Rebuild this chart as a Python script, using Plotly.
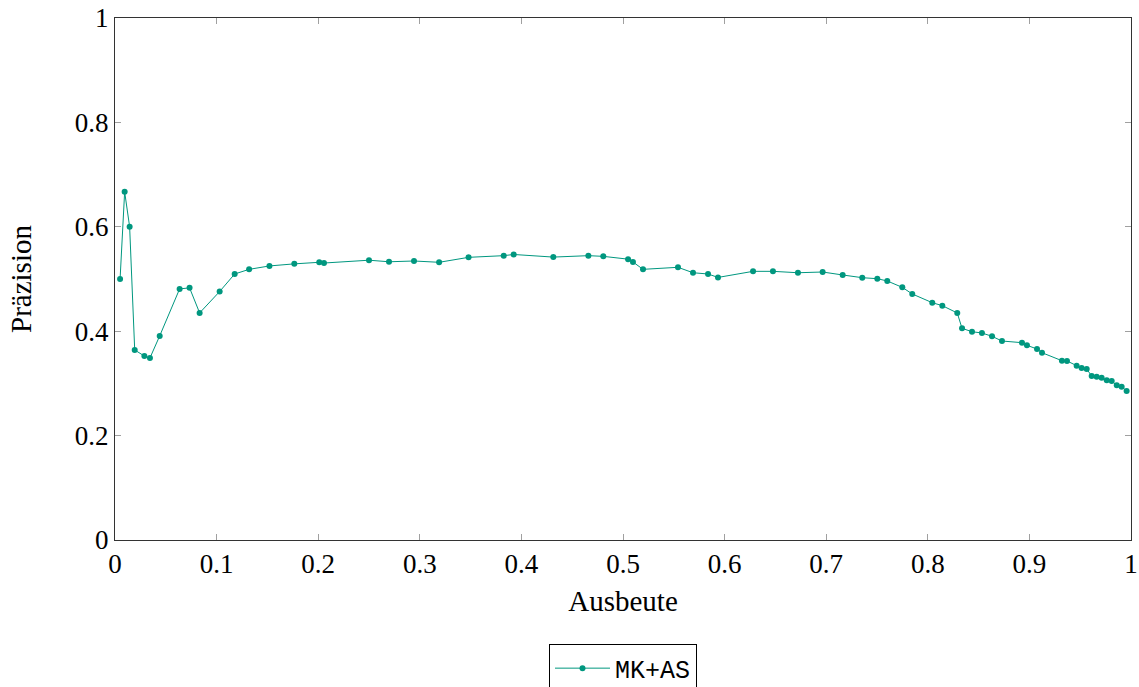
import plotly.graph_objects as go

# Precision/recall curve for MK+AS
ausbeute = [0.005, 0.0095, 0.0144, 0.0194, 0.0289, 0.0344, 0.044, 0.0636, 0.0734, 0.0833,
            0.103, 0.1178, 0.132, 0.152, 0.1765, 0.201, 0.2057, 0.25, 0.2697, 0.2943,
            0.319, 0.348, 0.3826, 0.3924, 0.4314, 0.4659, 0.4806, 0.505, 0.5098, 0.5197,
            0.5541, 0.5689, 0.5837, 0.5935, 0.628, 0.6476, 0.6722, 0.6965, 0.7162, 0.7355,
            0.7503, 0.7601, 0.7749, 0.7847, 0.8044, 0.8143, 0.829, 0.8337, 0.8435, 0.8533,
            0.8632, 0.873, 0.8927, 0.8976, 0.9075, 0.9124, 0.932, 0.937, 0.9465, 0.9514,
            0.9564, 0.9613, 0.9662, 0.9711, 0.9761, 0.981, 0.986, 0.9908, 0.9957]
praezision = [0.5, 0.667, 0.6, 0.364, 0.3525, 0.3487, 0.391, 0.481, 0.483, 0.435,
              0.476, 0.5096, 0.5185, 0.525, 0.529, 0.532, 0.5306, 0.536, 0.533, 0.5345,
              0.532, 0.5415, 0.5447, 0.547, 0.542, 0.5447, 0.5434, 0.538, 0.5326, 0.5185,
              0.5224, 0.512, 0.5096, 0.503, 0.5147, 0.5147, 0.512, 0.5134, 0.5077, 0.5025,
              0.5006, 0.4962, 0.484, 0.4713, 0.4546, 0.4489, 0.4349, 0.4055, 0.399, 0.3966,
              0.3902, 0.3812, 0.378, 0.373, 0.3659, 0.3588, 0.3435, 0.343, 0.334, 0.3295,
              0.3276, 0.3142, 0.3129, 0.311, 0.306, 0.3046, 0.2963, 0.2937, 0.2854]

x_ticks = [0, 0.1, 0.2, 0.3, 0.4, 0.5, 0.6, 0.7, 0.8, 0.9, 1]
x_labels = ["0", "0.1", "0.2", "0.3", "0.4", "0.5", "0.6", "0.7", "0.8", "0.9", "1"]
y_ticks = [0, 0.2, 0.4, 0.6, 0.8, 1]
y_labels = ["0", "0.2", "0.4", "0.6", "0.8", "1"]

teal = "#00977F"
serif = "Liberation Serif, DejaVu Serif, serif"

fig = go.Figure()
fig.add_trace(go.Scatter(
    x=ausbeute, y=praezision, mode="lines+markers", name="MK+AS",
    line=dict(color=teal, width=1),
    marker=dict(color=teal, size=6),
))

axis_common = dict(
    showline=True, linecolor="#333333", linewidth=1, mirror="allticks",
    ticks="inside", ticklen=6, tickcolor="#a0a0a0", tickwidth=1,
    showgrid=False, zeroline=False, automargin=False,
    tickfont=dict(family=serif, size=27, color="black"),
)

fig.update_xaxes(range=[0, 1], tickvals=x_ticks, ticktext=x_labels,
                 title=dict(text="Ausbeute", font=dict(family=serif, size=29, color="black"), standoff=12),
                 **axis_common)
fig.update_yaxes(range=[0, 1], tickvals=y_ticks, ticktext=y_labels,
                 title=dict(text="Präzision", font=dict(family=serif, size=29, color="black"), standoff=34),
                 **axis_common)

fig.update_layout(
    width=1139, height=687,
    margin=dict(l=115, r=8, t=18, b=147, autoexpand=False),
    plot_bgcolor="white", paper_bgcolor="white",
    showlegend=True,
    legend=dict(
        x=0.5, xanchor="center", y=-0.2, yanchor="top",
        bordercolor="black", borderwidth=1, bgcolor="white",
        itemwidth=55,
        font=dict(family="Liberation Mono, DejaVu Sans Mono, monospace", size=25, color="black"),
    ),
)

fig.write_html("out.html")
